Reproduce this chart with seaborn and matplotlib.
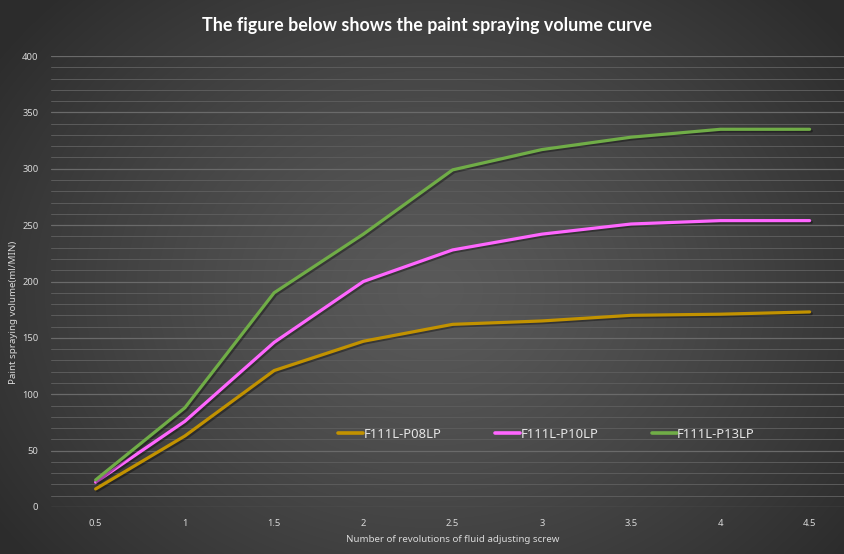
import numpy as np
import pandas as pd
import matplotlib
matplotlib.use("Agg")
import matplotlib.pyplot as plt
import matplotlib.patheffects as pe
from matplotlib.ticker import MultipleLocator
import seaborn as sns

revolutions = [0.5, 1, 1.5, 2, 2.5, 3, 3.5, 4, 4.5]
tick_labels = ["0.5", "1", "1.5", "2", "2.5", "3", "3.5", "4", "4.5"]
series_names = ["F111L-P08LP", "F111L-P10LP", "F111L-P13LP"]
p08 = [16, 63, 121, 147, 162, 165, 170, 171, 173]
p10 = [22, 76, 146, 200, 228, 242, 251, 254, 254]
p13 = [24, 88, 190, 242, 299, 317, 328, 335, 335]
colors = ["#C29200", "#FF66FF", "#70AD47"]

df = pd.concat([
    pd.DataFrame({"rev": revolutions, "vol": vals, "model": name})
    for name, vals in zip(series_names, [p08, p10, p13])
], ignore_index=True)

sns.set_theme(style="dark")
plt.rcParams["font.family"] = ["Noto Sans", "DejaVu Sans"]

W, H = 845, 554
fig = plt.figure(figsize=(W / 100, H / 100), dpi=100)

# radial gradient background
bg = fig.add_axes([0, 0, 1, 1], zorder=-10)
yy, xx = np.mgrid[0:H, 0:W]
cx, cy = 430, 290
r = np.sqrt(((xx - cx) / 520.0) ** 2 + ((yy - cy) / 420.0) ** 2)
r = np.clip(r, 0, 1)
inner, outer = 0.35, 0.175
g = inner + (outer - inner) * r ** 1.3
bg.imshow(np.dstack([g, g, g]), aspect="auto", extent=[0, 1, 0, 1], origin="upper")
bg.axis("off")

left = 51 / W
bottom = (H - 507) / H
width = 803.25 / W
height = 451 / H
ax = fig.add_axes([left, bottom, width, height])
ax.set_facecolor("none")

shadow = [pe.SimpleLineShadow(offset=(1.2, -1.2), shadow_color="black", alpha=0.35), pe.Normal()]
sns.lineplot(data=df, x="rev", y="vol", hue="model", palette=colors, linewidth=2.3,
             ax=ax, legend=True, path_effects=shadow)

ax.set_xlim(0.25, 4.75)
ax.set_ylim(0, 400)
ax.set_xticks(revolutions)
ax.set_xticklabels(tick_labels)
ax.yaxis.set_major_locator(MultipleLocator(50))
ax.yaxis.set_minor_locator(MultipleLocator(10))
ax.grid(False)
ax.grid(which="major", axis="y", color="#6a6a6a", linewidth=0.9)
ax.grid(which="minor", axis="y", color="#5c5c5c", linewidth=0.7)
ax.set_axisbelow(True)
for s in ax.spines.values():
    s.set_visible(False)
ax.tick_params(axis="both", which="both", length=0, colors="#d9d9d9", labelsize=6.8)
ax.tick_params(axis="y", pad=9)
ax.tick_params(axis="x", pad=9)

ax.set_xlabel("Number of revolutions of fluid adjusting screw", color="#d9d9d9", fontsize=7, labelpad=5)
ax.set_ylabel("Paint spraying volume(ml/MIN)", color="#d9d9d9", fontsize=7)
ax.yaxis.set_label_coords((18 - 51) / 803.25, (507 - 312) / 451)

fig.text(427 / W, (H - 25) / H, "The figure below shows the paint spraying volume curve",
         ha="center", va="center", color="white", fontsize=12.85, fontweight="bold", family=["Lato", "DejaVu Sans"])

handles, labels = ax.get_legend_handles_labels()
leg = ax.legend(handles, labels, loc="center left", bbox_to_anchor=(338 / W, (H - 434) / H),
                bbox_transform=fig.transFigure, ncol=3, frameon=False, fontsize=9.4,
                handlelength=1.9, handletextpad=0.05, columnspacing=4.1, borderpad=0, borderaxespad=0)
for t in leg.get_texts():
    t.set_color("#e6e6e6")
for l in leg.get_lines():
    l.set_linewidth(2.6)
    l.set_path_effects([])

fig.savefig("out.png", dpi=100)
